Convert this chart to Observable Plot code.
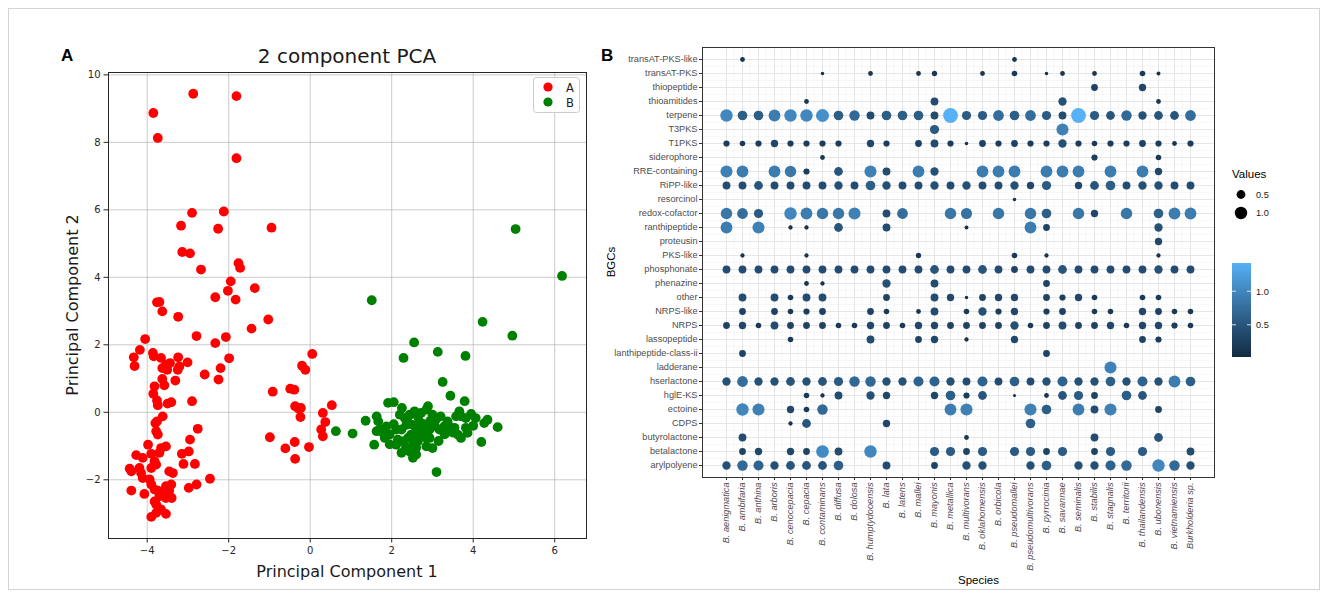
<!DOCTYPE html>
<html>
<head>
<meta charset="utf-8">
<script src="https://cdn.jsdelivr.net/npm/d3@7"></script>
<script src="https://cdn.jsdelivr.net/npm/@observablehq/plot@0.6"></script>
<style>
html,body{margin:0;padding:0;background:#fff;}
#fig{position:relative;width:1328px;height:597px;overflow:hidden;background:#fff;}
#fig > svg{position:absolute;}
</style>
</head>
<body>
<div id="fig"></div>
<script>
// ---------- Panel A data: PCA scores ----------
const pcaA = [[-2.87,9.44],[-1.81,9.37],[-3.85,8.87],[-3.74,8.13],[-1.81,7.53],[-2.90,5.91],[-2.12,5.95],[-3.17,5.53],[-2.26,5.44],[-0.95,5.47],[-3.14,4.75],[-2.95,4.71],
[-2.68,4.23],[-1.76,4.42],[-1.72,4.28],[-1.95,3.88],[-2.02,3.60],[-1.36,3.68],[-2.33,3.41],[-1.83,3.34],[-3.76,3.26],[-3.70,3.27],[-3.63,2.99],[-3.24,2.83],[-1.03,2.75],[-1.44,2.48],[-2.79,2.26],[-2.33,2.05],[-2.07,2.23],[-4.05,2.17],[-4.18,1.85],[-4.33,1.63],[-4.31,1.37],[-3.86,1.76],[-3.84,1.66],[-3.66,1.61],[-3.44,1.46],[-3.24,1.63],[-3.01,1.48],[-1.99,1.60],[-3.63,1.31],[-3.54,1.41],[-3.51,1.26],[-3.25,1.26],[-3.21,1.36],[-2.20,1.31],[-2.59,1.12],[-2.25,0.97],[-3.31,0.94],[-3.63,0.99],[-3.82,0.77],[-3.58,0.80],[-3.85,0.55],[-3.76,0.35],[-3.74,0.21],[-3.50,0.26],[-3.41,0.30],[-2.90,0.33],[-3.62,-0.12],[-3.80,-0.32],[-3.76,-0.27],[-3.78,-0.56],[-3.74,-0.66],[-2.76,-0.49],[-2.95,-0.81],[-3.98,-0.96],[-3.54,-1.01],[-3.66,-1.06],[-3.70,-1.20],[-4.27,-1.27],[-4.11,-1.35],[-3.90,-1.23],[-3.15,-1.23],[-2.98,-1.16],[-3.82,-1.45],[-3.78,-1.55],[-3.90,-1.65],[-3.11,-1.53],[-2.83,-1.53],[-4.43,-1.67],[-4.39,-1.75],[-4.19,-1.65],[-4.15,-1.80],[-4.11,-1.95],[-3.46,-1.75],[-3.37,-1.80],[-3.94,-1.99],[-2.46,-1.97],[-2.79,-2.14],[-2.98,-2.24],[-4.39,-2.32],[-4.07,-2.42],[-3.90,-2.14],[-3.82,-2.29],[-3.74,-2.32],[-3.62,-2.44],[-3.70,-2.49],[-3.54,-2.19],[-3.41,-2.14],[-3.46,-2.32],[-3.40,-2.54],[-3.54,-2.54],[-3.82,-2.64],[-3.78,-2.73],[-3.66,-2.88],[-3.54,-3.01],[-3.90,-3.10],[-3.78,-2.98],
[0.05,1.73],[-0.20,1.38],[-0.12,1.26],[-0.92,0.61],[-0.49,0.70],[-0.39,0.67],[-0.37,0.18],[-0.29,0.11],[-0.23,0.13],[-0.24,-0.14],[0.53,0.21],[0.31,-0.02],[0.37,-0.29],[0.27,-0.51],[0.31,-0.71],[-0.99,-0.74],[-0.38,-0.88],[-0.61,-1.07],[-0.03,-1.03],[-0.37,-1.38]];

const pcaB = [[5.04,5.43],[6.18,4.04],[1.51,3.32],[4.23,2.68],[4.96,2.27],[2.55,2.07],[2.29,1.61],[3.13,1.79],[3.81,1.67],[3.25,0.90],[3.44,0.49],[3.79,0.33],[1.91,0.28],[2.05,0.30],[2.25,0.13],[2.89,0.18],[2.85,0.08],[0.63,-0.56],[1.04,-0.63],[1.36,-0.25],[1.63,-0.12],[1.67,-0.27],[1.57,-0.96],[1.63,-0.56],[1.79,-0.61],[1.83,-0.76],[1.95,-0.66],[2.11,-0.51],[2.15,-0.81],[2.24,-1.20],[2.20,-0.07],[2.32,-0.17],[2.44,-0.07],[2.56,0.03],[2.64,-0.12],[2.72,-0.02],[2.52,-0.37],[2.60,-0.46],[2.68,-0.27],[2.48,-0.66],[2.56,-0.76],[2.64,-0.86],[2.52,-0.96],[2.44,-1.16],[2.52,-1.35],[2.60,-1.25],[2.76,-0.56],[2.85,-0.76],[2.93,-0.51],[3.00,-0.07],[3.08,-0.22],[3.20,-0.12],[3.00,-1.06],[3.10,-1.77],[3.17,-0.51],[3.29,-0.42],[3.37,-0.27],[3.41,-0.42],[3.54,-0.46],[3.58,-0.12],[3.66,0.03],[3.70,-0.12],[3.82,-0.17],[3.62,-0.66],[3.70,-0.76],[3.86,-0.61],[3.82,-0.46],[4.06,-0.17],[4.27,-0.32],[4.35,-0.22],[4.60,-0.44],[4.20,-0.88],[2.11,-0.96],[2.24,-0.51],[2.36,-0.37],[1.87,-0.42],[1.71,-0.51],[2.85,-1.01],[2.93,-0.76],[2.40,-0.76],[2.28,-0.86],
[2.70,-0.65],[2.80,-0.35],[3.05,-0.40],[2.95,-0.25],[2.40,-0.30],[2.05,-0.35],[3.30,-0.65],[3.50,-0.60],[4.00,-0.40],[3.95,-0.05],[2.60,-1.05],[2.35,-1.05],[3.15,-0.85],[1.95,-0.95]];

const pcaXTicks = [-4,-2,0,2,4,6];
const pcaYTicks = [-2,0,2,4,6,8,10];
const pcaGroups = ["A","B"];

// ---------- Panel B data: BGC values per species ----------
const species = ["B. aenigmatica","B. ambifaria","B. anthina","B. arboris","B. cenocepacia","B. cepacia","B. contaminans","B. diffusa","B. dolosa","B. humptydooensis","B. lata","B. latens","B. mallei","B. mayonis","B. metallica","B. multivorans","B. oklahomensis","B. orbicola","B. pseudomallei","B. pseudomultivorans","B. pyrrocinia","B. savannae","B. seminalis","B. stabilis","B. stagnalis","B. territorii","B. thailandensis","B. ubonensis","B. vietnamiensis","Burkholderia sp."];

const arylpolyene   = [.45,.7,.65,.45,.5,.5,.5,.6,0,0, .4,0,0,.3,0,.45,.45,0,0,.45, .6,0,.45,.45,.65,.7,0,1.0,.7,.45];
const betalactone   = [0,.3,.35,0,.35,.3,1.05,.4,0,1.0, 0,0,0,.55,.55,.3,.55,0,.55,.55, .3,.55,0,.3,.55,0,.55,0,0,.4];
const butyrolactone = [0,.4,0,0,0,0,0,0,0,0, 0,0,0,0,0,.15,0,0,0,0, 0,0,0,.4,0,0,0,.5,0,0];
const CDPS          = [0,0,0,0,.12,.5,0,0,0,0, .35,0,0,0,0,0,0,0,0,.6, 0,0,0,0,0,0,0,0,0,0];
const ectoine       = [0,1.0,.95,0,.35,.2,.7,0,0,0, 0,0,0,0,.9,.95,0,0,0,.95, .6,0,.9,.4,.95,0,0,.3,0,0];
const hglEKS        = [0,0,0,0,0,.2,.12,.4,0,.45, .35,0,0,.35,.6,.25,.5,0,.06,0, .15,.5,.55,.3,0,.6,.5,0,0,0];
const hserlactone   = [.45,.75,.45,.45,.5,.45,.5,.55,.7,.7, .45,.45,.65,.65,.45,.4,.65,.4,.6,.4, .45,.65,.45,.45,.6,.45,.65,.45,.9,.6];
const ladderane     = [0,0,0,0,0,0,0,0,0,0, 0,0,0,0,0,0,0,0,0,0, 0,0,0,0,.95,0,0,0,0,0];
const lanthipeptideClassII = [0,.3,0,0,0,0,0,0,0,0, 0,0,0,0,0,0,0,0,0,0, .3,0,0,0,0,0,0,0,0,0];
const lassopeptide  = [0,0,0,0,.2,0,0,0,0,.4, 0,0,.3,.35,0,.12,0,0,.35,0, 0,0,0,0,0,0,.3,.25,0,0];
const NRPS          = [.3,.35,.2,.4,.3,.3,.3,.2,.2,.35, .3,.2,.35,.35,.3,.3,.3,.3,.45,.2, .3,.4,.3,.3,.35,.2,.35,.35,.25,.2];
const NRPSlike      = [0,.3,0,.3,.2,.25,.3,0,0,.3, .2,0,.15,.4,0,.2,.45,.25,.35,0, .25,.3,0,.2,.2,0,.35,.3,.2,.2];
const other         = [0,.4,0,.4,.2,.4,.4,0,0,0, .3,0,0,.4,.35,.08,.3,.35,.35,0, .3,.25,.35,.2,0,0,.2,.2,0,0];
const phenazine     = [0,0,0,0,0,.15,.12,0,0,0, .45,0,0,.4,0,0,0,0,0,0, .3,0,0,0,0,0,0,0,0,0];
const phosphonate   = [.4,.4,.4,.4,.4,.4,.4,.4,.4,.4, .4,.4,.4,.5,.4,.4,.5,.4,.3,.4, .4,.5,.4,.4,.4,.4,.4,.45,.4,.4];
const PKSlike       = [0,.12,0,0,0,.12,0,0,0,0, 0,0,.18,0,0,0,0,0,.2,0, .12,0,0,0,0,0,0,.12,0,0];
const proteusin     = [0,0,0,0,0,0,0,0,0,0, 0,0,0,0,0,0,0,0,0,0, 0,0,0,0,0,0,0,.35,0,0];
const ranthipeptide = [.9,0,.95,0,.12,.12,0,.5,0,0, .4,0,0,0,0,.1,0,0,0,.9, .3,0,0,0,0,0,0,.45,0,0];
const redoxCofactor = [.85,.75,.55,0,1.0,.9,.85,.85,.95,0, .4,.75,0,0,.85,.8,0,.85,0,.85, .6,0,.85,.35,0,.85,0,.6,.9,.9];
const resorcinol    = [0,0,0,0,0,0,0,0,0,0, 0,0,0,0,0,0,0,0,.08,0, 0,0,0,0,0,0,0,0,0,0];
const RiPPlike      = [.4,.4,.5,.4,.4,.4,.4,.45,.4,.6, .45,.4,.4,.45,.4,.45,.4,.4,.45,.35, .55,0,.35,.5,.6,.4,.45,.45,.4,.4];
const RREcontaining = [.95,.9,0,.9,.85,.25,0,.5,0,.95, .4,0,.9,.45,0,0,.9,.9,.9,0, .9,.9,.9,0,.9,0,.9,.35,0,0];
const siderophore   = [0,0,0,0,0,0,.15,0,0,0, 0,0,0,0,0,0,0,0,0,0, 0,0,0,.25,0,0,0,.2,0,0];
const T1PKS         = [.25,.2,.25,.35,.25,.25,.25,.25,0,.35, .25,0,.3,.4,.25,.08,.3,.25,.3,.25, .25,.45,.25,.2,.25,.25,.3,.25,.15,.25];
const T3PKS         = [0,0,0,0,0,0,0,0,0,0, 0,0,0,.55,0,0,0,0,0,0, 0,.95,0,0,0,0,0,0,0,0];
const terpene       = [1.0,.6,.6,.9,1.0,1.0,1.1,.6,.7,.4, .6,.6,.6,.4,1.42,.55,.55,.75,.6,.75, .55,.4,1.42,.55,.5,.7,.45,.5,.5,.75];
const thioamitides  = [0,0,0,0,0,.15,0,0,0,0, 0,0,0,.4,0,0,0,0,0,0, 0,.45,0,0,0,0,0,.15,0,0];
const thiopeptide   = [0,0,0,0,0,0,0,0,0,0, 0,0,0,0,0,0,0,0,0,0, 0,0,0,.3,0,0,.35,0,0,0];
const transATPKS    = [0,0,0,0,0,0,.08,0,0,.15, 0,0,.15,.18,0,0,.15,0,.2,0, .08,.15,0,.15,0,0,.2,.1,0,0];
const transATPKSlike= [0,.15,0,0,0,0,0,0,0,0, 0,0,0,0,0,0,0,0,.15,0, 0,0,0,0,0,0,0,0,0,0];

const bgcRows = [
  ["arylpolyene", arylpolyene], ["betalactone", betalactone], ["butyrolactone", butyrolactone],
  ["CDPS", CDPS], ["ectoine", ectoine], ["hglE-KS", hglEKS], ["hserlactone", hserlactone],
  ["ladderane", ladderane], ["lanthipeptide-class-ii", lanthipeptideClassII], ["lassopeptide", lassopeptide],
  ["NRPS", NRPS], ["NRPS-like", NRPSlike], ["other", other], ["phenazine", phenazine],
  ["phosphonate", phosphonate], ["PKS-like", PKSlike], ["proteusin", proteusin],
  ["ranthipeptide", ranthipeptide], ["redox-cofactor", redoxCofactor], ["resorcinol", resorcinol],
  ["RiPP-like", RiPPlike], ["RRE-containing", RREcontaining], ["siderophore", siderophore],
  ["T1PKS", T1PKS], ["T3PKS", T3PKS], ["terpene", terpene], ["thioamitides", thioamitides],
  ["thiopeptide", thiopeptide], ["transAT-PKS", transATPKS], ["transAT-PKS-like", transATPKSlike]
];
const sizeLegendValues = [0.5, 1.0];
const colorLegendTicks = [0.5, 1.0];

// ---------- build ----------
const fig = document.getElementById("fig");

const ptsA = pcaA.map(([x, y]) => ({x, y, g: "A"}));
const ptsB = pcaB.map(([x, y]) => ({x, y, g: "B"}));
const minus = d => (d < 0 ? "\u2212" + (-d) : String(d));

const plotA = Plot.plot({
  width: 600, height: 597,
  marginLeft: 108, marginRight: 14, marginTop: 72, marginBottom: 59,
  x: {domain: [-4.95, 6.78], label: null},
  y: {domain: [-3.74, 10.07], label: null},
  color: {domain: pcaGroups, range: ["#ff0000", "#008000"]},
  style: {fontFamily: "DejaVu Sans, sans-serif", fontSize: "10px", color: "#262626", background: "transparent"},
  marks: [
    Plot.gridX(pcaXTicks, {stroke: "#b0b0b0", strokeOpacity: 0.75, strokeWidth: 0.9}),
    Plot.gridY(pcaYTicks, {stroke: "#b0b0b0", strokeOpacity: 0.75, strokeWidth: 0.9}),
    Plot.dot(ptsA, {x: "x", y: "y", fill: "g", r: 4.9}),
    Plot.dot(ptsB, {x: "x", y: "y", fill: "g", r: 4.9}),
    Plot.frame({stroke: "#262626", strokeWidth: 1}),
    Plot.axisX(pcaXTicks, {tickSize: 4.5, tickPadding: 3.5, tickFormat: minus, stroke: "#262626", label: null}),
    Plot.axisY(pcaYTicks, {tickSize: 4.5, tickPadding: 3.5, tickFormat: minus, stroke: "#262626", label: null})
  ]
});
plotA.style.left = "0px"; plotA.style.top = "0px";
fig.appendChild(plotA);

// panel B
const cells = [];
for (const [name, vals] of bgcRows) {
  vals.forEach((v, i) => { if (v > 0) cells.push({bgc: name, species: species[i], value: v}); });
}
const bgcDomain = bgcRows.map(d => d[0]).reverse();
const bLeft = 102, bRight = 26, bTop = 47, bBottom = 120, bW = 640, bH = 597;
const stepX = (bW - bLeft - bRight) / (species.length - 1 + 1.2);
const stepY = (bH - bTop - bBottom) / (bgcDomain.length - 1 + 1.2);

const plotB = Plot.plot({
  width: bW, height: bH,
  marginLeft: bLeft, marginRight: bRight, marginTop: bTop, marginBottom: bBottom,
  x: {type: "point", domain: species, padding: 0.6, label: null},
  y: {type: "point", domain: bgcDomain, padding: 0.6, label: null},
  r: {type: "sqrt", domain: [0, 1.42], range: [0, 7.4]},
  color: {type: "linear", domain: [0.02, 1.42], range: ["#132B43", "#56B1F7"], interpolate: "lab"},
  style: {fontFamily: "Liberation Sans, Arial, sans-serif", fontSize: "9.2px", color: "#4d4d4d", background: "transparent"},
  marks: [
    Plot.ruleX(species.slice(1), {x: d => d, dx: -stepX / 2, stroke: "#f3f3f3", strokeWidth: 0.7}),
    Plot.ruleY(bgcDomain.slice(1), {y: d => d, dy: -stepY / 2, stroke: "#f3f3f3", strokeWidth: 0.7}),
    Plot.gridX(species, {stroke: "#e6e6e6", strokeOpacity: 1, strokeWidth: 1}),
    Plot.gridY(bgcDomain, {stroke: "#e6e6e6", strokeOpacity: 1, strokeWidth: 1}),
    Plot.dot(cells, {x: "species", y: "bgc", r: "value", fill: "value"}),
    Plot.frame({stroke: "#333333", strokeWidth: 1}),
    Plot.axisY(bgcDomain, {tickSize: 3, tickPadding: 2, stroke: "#333333", label: null}),
    Plot.axisX(species, {tickSize: 3, tickPadding: 2, tickRotate: -90, stroke: "#333333", fontStyle: "italic", label: null})
  ]
});
plotB.style.left = "600px"; plotB.style.top = "0px";
fig.appendChild(plotB);

// ---------- overlay: titles, labels, legends ----------
const ov = d3.select(fig).append("svg")
  .attr("width", 1328).attr("height", 597)
  .style("left", "0px").style("top", "0px").style("pointer-events", "none");

ov.append("rect").attr("x", 8.5).attr("y", 8.5).attr("width", 1311).attr("height", 581)
  .attr("fill", "none").attr("stroke", "#d4d4d4");

const txt = (x, y, s, o = {}) => ov.append("text").attr("x", x).attr("y", y).text(s)
  .attr("font-family", o.family || "Liberation Sans, Arial, sans-serif")
  .attr("font-size", o.size || 11).attr("font-weight", o.weight || "normal")
  .attr("fill", o.fill || "#000").attr("text-anchor", o.anchor || "start")
  .attr("transform", o.transform || null);

txt(61, 61, "A", {size: 17, weight: "bold"});
txt(601, 61, "B", {size: 17, weight: "bold"});
txt(347, 63, "2 component PCA", {family: "DejaVu Sans, sans-serif", size: 20, anchor: "middle", fill: "#1a1a1a"});
txt(347, 577, "Principal Component 1", {family: "DejaVu Sans, sans-serif", size: 16, anchor: "middle", fill: "#1a1a1a"});
txt(0, 0, "Principal Component 2", {family: "DejaVu Sans, sans-serif", size: 16, anchor: "middle", fill: "#1a1a1a", transform: "translate(78,305) rotate(-90)"});

// panel A legend
const legA = ov.append("g");
legA.append("rect").attr("x", 533.5).attr("y", 77.5).attr("width", 46).attr("height", 35).attr("rx", 3)
  .attr("fill", "#fff").attr("fill-opacity", 0.85).attr("stroke", "#cccccc");
const colA = plotA.scale("color");
pcaGroups.forEach((g, i) => {
  legA.append("circle").attr("cx", 548).attr("cy", 87 + i * 15).attr("r", 4.6).attr("fill", colA.apply(g));
  txt(566, 91.5 + i * 15, g, {family: "DejaVu Sans, sans-serif", size: 11.5, fill: "#1a1a1a"});
});

// panel B axis titles
txt(958, 584, "Species", {size: 11.5});
txt(0, 0, "BGCs", {size: 11.5, anchor: "middle", transform: "translate(615,262) rotate(-90)"});

// size legend
const rS = plotB.scale("r"), cS = plotB.scale("color");
txt(1232, 178, "Values", {size: 11.5});
sizeLegendValues.forEach((v, i) => {
  ov.append("circle").attr("cx", 1241).attr("cy", 194.5 + i * 18.5).attr("r", rS.apply(v)).attr("fill", "#000");
  txt(1256, 197.8 + i * 18.5, v.toFixed(1), {size: 9.2, fill: "#1a1a1a"});
});

// colour bar
const [cMin, cMax] = cS.domain;
const barTop = 263, barBot = 357, barX = 1232, barW = 19;
const grad = ov.append("defs").append("linearGradient").attr("id", "cbar")
  .attr("x1", 0).attr("y1", 1).attr("x2", 0).attr("y2", 0);
d3.range(0, 1.0001, 0.05).forEach(t => {
  grad.append("stop").attr("offset", t).attr("stop-color", cS.apply(cMin + t * (cMax - cMin)));
});
ov.append("rect").attr("x", barX).attr("y", barTop).attr("width", barW).attr("height", barBot - barTop).attr("fill", "url(#cbar)");
const yBar = v => barBot - (v - cMin) / (cMax - cMin) * (barBot - barTop);
colorLegendTicks.forEach(v => {
  const y = yBar(v);
  ov.append("line").attr("x1", barX).attr("x2", barX + 4).attr("y1", y).attr("y2", y).attr("stroke", "#fff").attr("stroke-opacity", 0.8);
  ov.append("line").attr("x1", barX + barW - 4).attr("x2", barX + barW).attr("y1", y).attr("y2", y).attr("stroke", "#fff").attr("stroke-opacity", 0.8);
  txt(1256, y + 3.3, v.toFixed(1), {size: 9.2, fill: "#1a1a1a"});
});
</script>
</body>
</html>
